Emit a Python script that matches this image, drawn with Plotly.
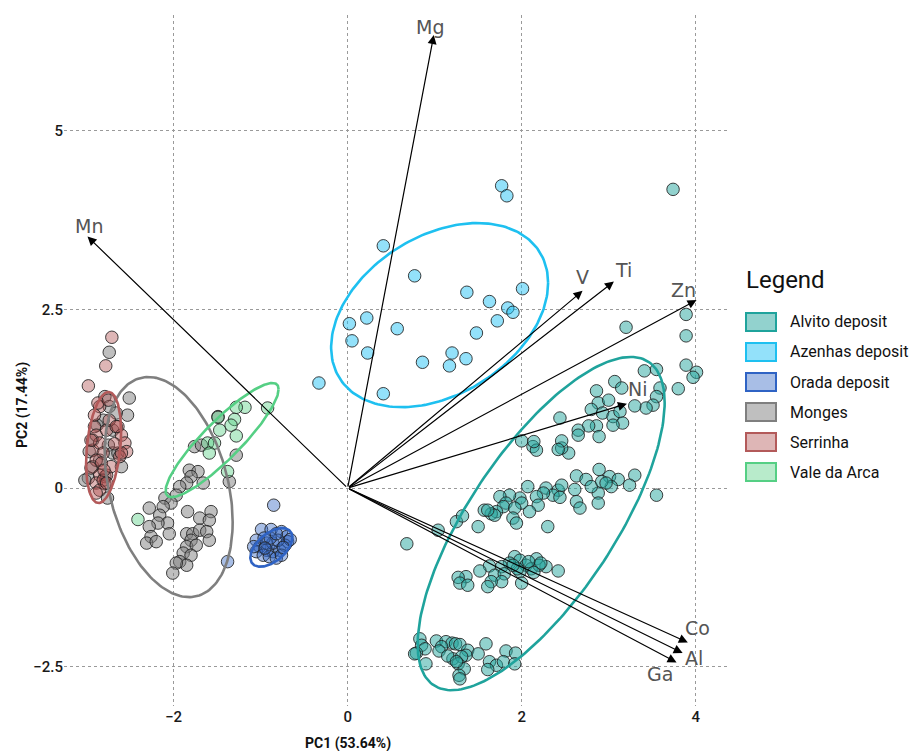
import numpy as np
import plotly.graph_objects as go

# ---------------- data ----------------
groups = ["Alvito deposit", "Azenhas deposit", "Orada deposit", "Monges", "Serrinha", "Vale da Arca"]

alvito_pc1 = [3.74, 3.89, 3.89, 3.20, 3.89, 4.01, 3.97, 3.80, 3.41, 3.55, 3.59, 3.55, 3.51, 3.43, 3.30, 3.07, 3.15,
              2.86, 2.88, 3.00, 2.80, 2.93, 3.05, 3.13, 3.16, 3.05, 2.86, 2.77, 2.65, 2.65, 2.89, 2.54, 2.46, 2.44,
              2.46, 2.42, 2.00, 2.13, 2.17, 2.14,
              2.63, 2.74, 2.89, 3.01, 3.11, 3.30, 3.24, 3.03, 2.88, 2.80, 2.61, 2.63, 2.88, 3.55, 2.67, 2.92, 2.97,
              2.07, 2.28, 2.42, 2.46, 2.36, 2.44, 2.25, 2.17, 2.19, 2.09, 1.98, 2.00, 1.86, 1.75, 1.82, 1.79, 1.92,
              1.71, 1.65, 1.69, 1.57, 1.61, 1.90, 1.94, 2.30, 1.50, 1.25, 1.32, 1.04, 0.68,
              1.92, 1.98, 1.86, 2.05, 2.17, 2.28, 2.42, 2.11, 1.98, 1.77, 1.63, 1.52, 1.69, 1.80, 1.77, 1.65, 2.00,
              1.61, 1.36, 1.27, 1.29, 1.38, 2.20, 2.22, 1.95, 2.08, 2.14, 1.90,
              0.83, 0.85, 0.89, 0.79, 0.90, 1.02, 1.13, 1.20, 1.24, 1.29, 1.08, 1.05, 1.38, 1.36, 1.50, 1.59, 1.21,
              1.31, 1.27, 1.34, 1.28, 1.29, 1.82, 1.93, 1.63, 1.71, 1.79, 1.61, 1.92, 0.77, 1.15, 1.25]
alvito_pc2 = [4.18, 2.43, 2.13, 2.25, 1.72, 1.62, 1.55, 1.39, 1.64, 1.66, 1.40, 1.28, 1.16, 1.12, 1.15, 1.49, 1.40,
              1.36, 1.19, 1.23, 1.10, 1.05, 1.00, 1.07, 0.91, 0.88, 0.87, 0.87, 0.81, 0.74, 0.72, 0.49, 0.56, 0.98,
              0.66, 0.54, 0.66, 0.58, 0.53, 0.65,
              0.17, 0.12, 0.26, 0.16, 0.12, 0.18, 0.04, 0.02, -0.07, 0.02, -0.02, -0.19, -0.21, -0.10, -0.28, 0.09, 0.07,
              0.02, 0.00, -0.03, 0.04, -0.10, -0.13, -0.07, -0.12, -0.24, -0.33, -0.14, -0.21, -0.10, -0.12, -0.21, -0.26, -0.28,
              -0.33, -0.36, -0.38, -0.31, -0.31, -0.42, -0.49, -0.54, -0.54, -0.47, -0.39, -0.59, -0.78,
              -0.96, -1.01, -1.05, -1.08, -0.99, -1.10, -1.16, -1.13, -1.17, -1.10, -1.09, -1.16, -1.22, -1.20, -1.31, -1.31, -1.33,
              -1.38, -1.24, -1.25, -1.33, -1.36, -1.08, -1.05, -1.13, -1.03, -1.18, -1.08,
              -2.11, -2.20, -2.25, -2.31, -2.46, -2.14, -2.15, -2.17, -2.18, -2.19, -2.22, -2.28, -2.27, -2.34, -2.32, -2.18, -2.39,
              -2.36, -2.46, -2.53, -2.62, -2.67, -2.28, -2.31, -2.43, -2.48, -2.43, -2.54, -2.46, -2.32, -2.35, -2.43]

azenhas_pc1 = [1.77, 1.83, 0.41, 0.77, 1.37, 1.63, 1.84, 1.90, 2.01, 1.72, 1.48, 0.57, 0.86, 1.20, 1.17, 1.36,
               0.41, 0.02, 0.22, 0.05, 0.23, -0.33]
azenhas_pc2 = [4.23, 4.09, 3.39, 2.97, 2.74, 2.61, 2.52, 2.46, 2.79, 2.34, 2.17, 2.23, 1.76, 1.89, 1.71, 1.81,
               1.32, 2.30, 2.38, 2.06, 1.89, 1.47]

orada_pc1 = [-0.85, -1.38, -0.99, -0.88, -0.76, -0.70, -0.69, -1.05, -1.01, -0.93, -0.86, -0.78, -0.72, -1.05,
             -0.97, -0.90, -0.82, -0.76, -0.93, -0.86, -0.80, -0.96, -1.08, -0.66, -0.89, -0.82, -0.95, -0.74]
orada_pc2 = [-0.24, -1.03, -0.58, -0.58, -0.61, -0.68, -0.75, -0.73, -0.82, -0.87, -0.89, -0.87, -0.80, -0.89,
             -0.94, -0.96, -0.98, -0.94, -0.77, -0.77, -0.73, -0.70, -0.82, -0.72, -0.70, -0.64, -0.84, -0.83]

monges_pc1 = [-2.51, -2.53, -1.49, -1.28, -1.36, -1.76, -1.68, -1.82, -1.72, -1.80, -1.66, -1.85, -1.93, -1.97,
              -2.10, -2.03, -2.12, -2.28, -2.16, -1.84, -1.70, -1.57, -1.59, -2.07, -2.18, -2.28, -2.26, -2.31,
              -2.20, -2.05, -1.85, -1.78, -1.70, -1.62, -1.59, -1.80, -1.85, -1.74, -1.89, -1.80, -1.93, -1.85,
              -1.97, -2.01,
              -2.74, -2.79, -2.74, -2.81, -2.70, -2.93, -2.75, -2.97, -2.70, -2.85, -2.93, -2.98, -2.79, -2.64,
              -3.02, -2.76, -2.88, -2.66, -2.60]
monges_pc2 = [1.26, 1.02, 1.00, 0.46, 0.09, 0.58, 0.60, 0.25, 0.23, 0.16, 0.07, 0.07, 0.02, -0.10,
              -0.14, -0.21, -0.26, -0.28, -0.38, -0.33, -0.42, -0.33, -0.45, -0.49, -0.49, -0.54, -0.68, -0.77,
              -0.75, -0.64, -0.64, -0.64, -0.59, -0.61, -0.73, -0.73, -0.82, -0.80, -0.91, -0.94, -1.03, -1.08,
              -1.05, -1.19,
              1.90, 1.28, 1.14, 0.95, 0.81, 0.67, 0.60, 0.51, 0.49, 0.39, 0.30, 0.14, 0.16, 0.49,
              0.11, -0.14, 0.88, 1.05, 0.30]

serrinha_pc1 = [-2.71, -2.78, -2.98, -2.91, -2.89, -2.77, -2.64, -2.60, -2.56, -2.54, -2.62, -2.93, -2.85, -2.81,
                -2.89, -2.83, -2.95, -2.85, -2.77, -2.89, -2.79, -2.85, -2.87, -2.75, -2.91, -2.74, -2.81, -2.85,
                -2.89, -2.77, -2.60, -2.66, -2.95, -2.72, -2.80, -2.68]
serrinha_pc2 = [2.11, 1.71, 1.43, 0.86, 0.74, 0.81, 0.86, 0.74, 0.63, 0.51, 0.44, 0.53, 0.63, 0.49,
                0.39, 0.35, 0.28, 0.18, 0.18, 0.07, 0.06, 1.14, 1.19, 1.23, 1.02, 0.95, 0.11, -0.03,
                -0.07, 0.07, 0.49, 0.86, 0.67, 0.30, 0.25, 0.62]

vale_pc1 = [-0.92, -1.18, -1.28, -1.49, -1.30, -1.34, -1.47, -1.28, -1.61, -1.53, -1.59, -1.38, -2.41]
vale_pc2 = [1.12, 1.13, 1.13, 0.99, 0.96, 0.88, 0.81, 0.73, 0.63, 0.63, 0.49, 0.23, -0.44]

# confidence ellipses: centre and covariance-like shape matrix (sxx, syy, sxy)
ellipse_cx = [2.224, 1.057, -0.877, -2.057, -2.805, -1.443]
ellipse_cy = [-0.497, 2.42, -0.831, 0.014, 0.567, 0.672]
ellipse_sxx = [2.015, 1.555, 0.0583, 0.541, 0.0405, 0.4217]
ellipse_syy = [5.438, 1.660, 0.0731, 2.373, 0.604, 0.6373]
ellipse_sxy = [2.40, 0.563, 0.0338, -0.36, 0.0447, 0.4614]

# variable loadings (arrow tips)
variables = ["Mg", "Mn", "V", "Ti", "Zn", "Ni", "Co", "Al", "Ga"]
load_pc1 = [0.99, -2.99, 2.70, 3.06, 4.01, 3.21, 3.91, 3.85, 3.78]
load_pc2 = [6.34, 3.52, 2.76, 2.89, 2.63, 1.18, -2.16, -2.31, -2.44]

x_title = "PC1 (53.64%)"
y_title = "PC2 (17.44%)"
legend_title = "Legend"

# ---------------- styles ----------------
line_colors = ["#1fa39c", "#1ec0f0", "#2f63c4", "#7f7f7f", "#b35a5a", "#55cf84"]
fill_colors = ["rgba(38,166,158,0.5)", "rgba(30,192,245,0.48)", "rgba(47,99,196,0.42)",
               "rgba(128,128,128,0.5)", "rgba(176,80,80,0.42)", "rgba(85,207,132,0.42)"]
label_shift = [(-4, 8), (2, 11), (0, 14), (10, 12), (-13, 10), (11, 15), (10, 14), (11, -5), (-17, -12)]

pts_x = [alvito_pc1, azenhas_pc1, orada_pc1, monges_pc1, serrinha_pc1, vale_pc1]
pts_y = [alvito_pc2, azenhas_pc2, orada_pc2, monges_pc2, serrinha_pc2, vale_pc2]

W, H = 916, 751
L, R, T, B = 64, 189, 15, 45
pw, ph = W - L - R, H - T - B


def px2paper(px, py):
    return (px - L) / pw, (H - B - py) / ph


fig = go.Figure()

for i, g in enumerate(groups):
    fig.add_trace(go.Scatter(
        x=pts_x[i], y=pts_y[i], mode="markers", name=g, showlegend=False,
        marker=dict(size=12.5, color=fill_colors[i], line=dict(color="rgba(30,30,30,0.85)", width=1)),
    ))

t = np.linspace(0, 2 * np.pi, 200)
for i, g in enumerate(groups):
    S = np.array([[ellipse_sxx[i], ellipse_sxy[i]], [ellipse_sxy[i], ellipse_syy[i]]])
    Lc = np.linalg.cholesky(S)
    e = Lc @ np.vstack([np.cos(t), np.sin(t)])
    fig.add_trace(go.Scatter(
        x=ellipse_cx[i] + e[0], y=ellipse_cy[i] + e[1], mode="lines", showlegend=False,
        line=dict(color=line_colors[i], width=2.6), hoverinfo="skip",
    ))

annotations = []
for i, v in enumerate(variables):
    annotations.append(dict(
        x=load_pc1[i], y=load_pc2[i], ax=0, ay=0, xref="x", yref="y", axref="x", ayref="y",
        text="", showarrow=True, arrowhead=2, arrowsize=1.5, arrowwidth=1.2, arrowcolor="black",
    ))
    annotations.append(dict(
        x=load_pc1[i], y=load_pc2[i], xref="x", yref="y", text=v, showarrow=False,
        xshift=label_shift[i][0], yshift=label_shift[i][1], xanchor="center", yanchor="middle",
        font=dict(family="DejaVu Sans", size=19, color="#555555"),
    ))

# axis titles
ax_, ay_ = px2paper(348, 744)
annotations.append(dict(x=ax_, y=ay_, xref="paper", yref="paper", text="<b>%s</b>" % x_title, showarrow=False,
                        xanchor="center", yanchor="middle",
                        font=dict(family="Roboto", size=14, color="#111")))
bx_, by_ = px2paper(22, 405)
annotations.append(dict(x=bx_, y=by_, xref="paper", yref="paper", text="<b>%s</b>" % y_title, showarrow=False,
                        xanchor="center", yanchor="middle",
                        textangle=-90, font=dict(family="Roboto", size=14, color="#111")))

# legend (drawn manually with boxes)
lx, ly = px2paper(744, 280)
annotations.append(dict(x=lx, y=ly, xref="paper", yref="paper", text=legend_title, showarrow=False,
                        xanchor="left", yanchor="middle", font=dict(family="Roboto", size=24, color="#111")))
shapes = []
for i, g in enumerate(groups):
    top = 313 + 30 * i
    x0, y0 = px2paper(746, top + 18)
    x1, y1 = px2paper(776, top)
    shapes.append(dict(type="rect", xref="paper", yref="paper", x0=x0, y0=y0, x1=x1, y1=y1,
                       fillcolor=fill_colors[i], line=dict(color=line_colors[i], width=2)))
    tx, ty = px2paper(788, top + 9)
    annotations.append(dict(x=tx, y=ty, xref="paper", yref="paper", text=g, showarrow=False,
                            xanchor="left", yanchor="middle", font=dict(family="Roboto", size=16, color="#111")))

fig.update_layout(
    width=W, height=H, margin=dict(l=L, r=R, t=T, b=B, autoexpand=False),
    paper_bgcolor="white", plot_bgcolor="white", showlegend=False,
    annotations=annotations, shapes=shapes,
    font=dict(family="Roboto", size=14, color="#222"),
)
fig.update_xaxes(range=[-3.26, 4.36], dtick=2, tick0=0, showgrid=True, gridcolor="#9a9a9a", griddash="3px,3px",
                 gridwidth=1, zeroline=False, showline=False, ticks="",
                 tickfont=dict(size=15, color="#1a1a1a", weight=500))
fig.update_yaxes(range=[-3.05, 6.62], dtick=2.5, tick0=0, showgrid=True, gridcolor="#9a9a9a", griddash="3px,3px",
                 gridwidth=1, zeroline=False, showline=False, ticks="",
                 tickfont=dict(size=15, color="#1a1a1a", weight=500))

fig.write_html("out.html", config={"displayModeBar": False},
               post_script="document.body.style.margin='0px';document.body.style.padding='0px';")
